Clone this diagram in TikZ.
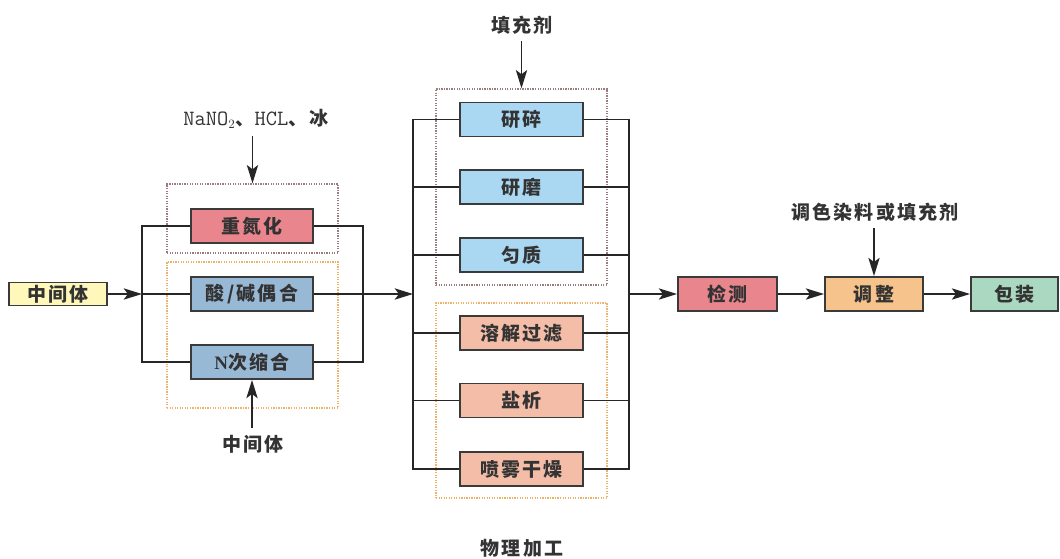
\documentclass[tikz,border=0pt]{standalone}
\usepackage{fontspec}
\setmainfont{Liberation Serif}
\newfontfamily\cjk[LetterSpace=12]{Noto Sans CJK SC}
\usetikzlibrary{arrows.meta}
\tikzset{>=Stealth}
\definecolor{boxline}{HTML}{3A3A3A}
\definecolor{linec}{HTML}{262626}
\definecolor{txt}{HTML}{333333}
\definecolor{cyellow}{HTML}{FFF8BA}
\definecolor{cpink}{HTML}{E9868D}
\definecolor{csteel}{HTML}{98B9D6}
\definecolor{csky}{HTML}{AAD7F2}
\definecolor{csalmon}{HTML}{F3BDA7}
\definecolor{corange}{HTML}{F7C38C}
\definecolor{cgreen}{HTML}{AAD8C0}
\definecolor{grpbrown}{HTML}{9A7C7C}
\definecolor{grporange}{HTML}{F0B268}

\begin{document}
\begin{tikzpicture}[x=0.025cm,y=-0.025cm,
    box/.style={draw=boxline,line width=1.3pt,minimum width=3.05cm,minimum height=0.85cm,
        inner sep=0pt,text=txt,font=\cjk\bfseries\fontsize{13.5}{16}\selectfont},
    grp/.style={line width=0.9pt,dash pattern=on 0.9pt off 0.9pt,inner sep=0pt,
        minimum width=4.275cm},
    lbl/.style={text=txt,inner sep=1pt,outer sep=4pt,font=\cjk\bfseries\fontsize{13.5}{16}\selectfont},
    link/.style={line width=1.3pt,draw=linec,-{Stealth[length=13pt,width=8pt,inset=3pt]}},
    bus/.style={line width=1.3pt,draw=linec}]
    \useasboundingbox (0,0) rectangle (1060,559);
    % dotted groups
    \node[grp,draw=grpbrown,minimum height=1.725cm] at (252.5,218.5) (g1) {};
    \node[grp,draw=grporange,minimum height=3.65cm] at (252.5,335) (g2) {};
    \node[grp,draw=grpbrown,minimum height=4.9cm] at (521.5,187) (g3) {};
    \node[grp,draw=grporange,minimum height=4.875cm] at (521.5,400.5) (g4) {};
    % chemical steps
    \node[box,fill=cyellow,minimum width=2.45cm,minimum height=0.575cm] at (58,294) (zj) {中间体};
    \node[box,fill=cpink] at (252,226) (cz) {重氮化};
    \node[box,fill=csteel] at (252,294) (ox) {酸/碱偶合};
    \node[box,fill=csteel] at (252,362) (nx) {{\rmfamily N}次缩合};
    % physical steps
    \node[box,fill=csky,minimum width=3.075cm] at (521.5,119.5) (ys) {研碎};
    \node[box,fill=csky,minimum width=3.075cm] at (521.5,187) (ym) {研磨};
    \node[box,fill=csky,minimum width=3.075cm] at (521.5,255) (yz) {匀质};
    \node[box,fill=csalmon,minimum width=3.075cm] at (521.5,333) (rj) {溶解过滤};
    \node[box,fill=csalmon,minimum width=3.075cm] at (521.5,400.5) (yx) {盐析};
    \node[box,fill=csalmon,minimum width=3.075cm] at (521.5,469) (pw) {喷雾干燥};
    % finishing
    \node[box,fill=cpink,minimum width=2.475cm] at (727.5,294) (jc) {检测};
    \node[box,fill=corange,minimum width=2.45cm] at (874,294) (tz) {调整};
    \node[box,fill=cgreen,minimum width=2.175cm] at (1014.5,294) (bz) {包装};
    % inputs
    \node[lbl] at (256,119) (na) {{\mdseries\ttfamily\fontsize{15.5}{18}\selectfont NaNO}$_2$、{\mdseries\ttfamily\fontsize{15.5}{18}\selectfont HCL}、冰};
    \node[lbl] at (253,444) (lz) {中间体};
    \node[lbl] at (522,25) (tc) {填充剂};
    \node[lbl] at (875,212) (ts) {调色染料或填充剂};
    \node[lbl] at (522,548) (wl) {物理加工};
    % bus points
    \coordinate (sL) at (142,294);
    \coordinate (sR) at (363,294);
    \coordinate (pL) at (413,294);
    \coordinate (pR) at (629,294);
    \foreach \b in {cz,ox,nx} {
        \draw[bus] (\b.west) -| (sL);
        \draw[bus] (\b.east) -| (sR);
    }
    \foreach \b in {ys,ym,yz,rj,yx,pw} {
        \draw[bus] (\b.west) -| (pL);
        \draw[bus] (\b.east) -| (pR);
    }
    \draw[link] (zj) -- (sL);
    \draw[link] (sR) -- (pL);
    \draw[link] (pR) -- (jc);
    \draw[link] (jc) -- (tz);
    \draw[link] (tz) -- (bz);
    \draw[link] (g1.north |- na.south) -- (g1.north);
    \draw[link] (nx.south |- lz.north) -- (nx.south);
    \draw[link] (g3.north |- tc.south) -- (g3.north);
    \draw[link] (tz.north |- ts.south) -- (tz.north);
\end{tikzpicture}
\end{document}
